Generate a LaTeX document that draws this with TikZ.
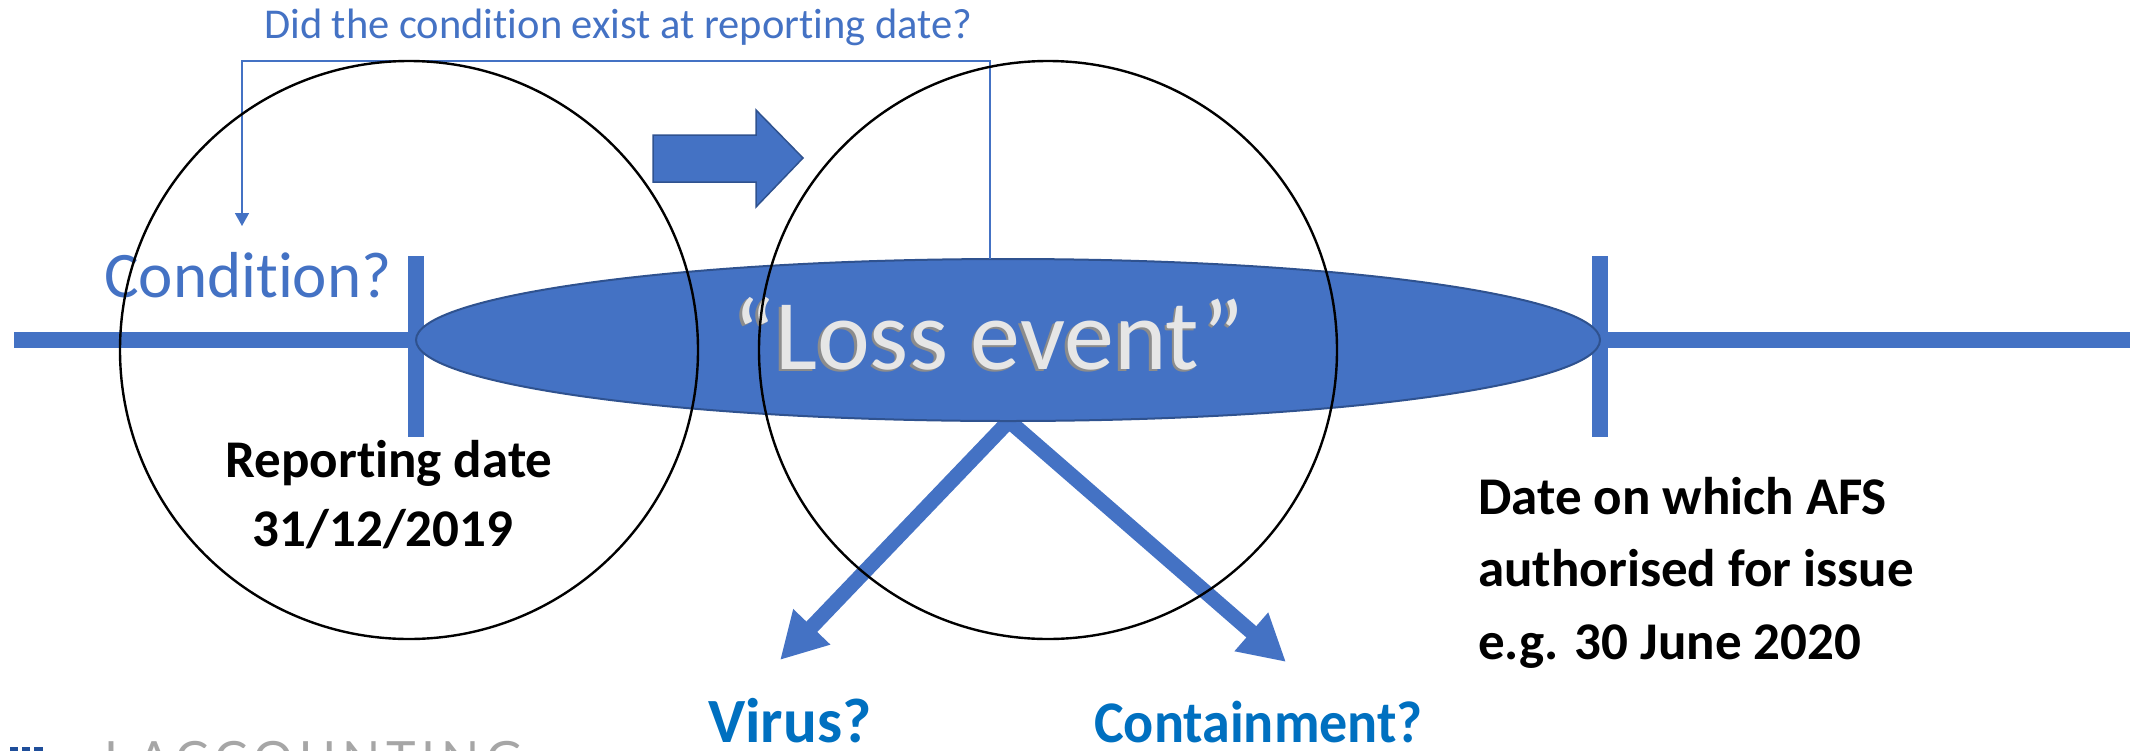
\documentclass[tikz,border=0pt]{standalone}
\usepackage{fontspec}
\setmainfont{Carlito}[Ligatures=CommonOff]
\newfontfamily\logofont{Lato}
\usetikzlibrary{shapes.geometric,arrows.meta}
\definecolor{obl}{HTML}{4472C4}
\definecolor{obd}{HTML}{2F528F}
\definecolor{qbl}{HTML}{0070C0}
\definecolor{lgray}{HTML}{E6E6E6}
\definecolor{sgray}{HTML}{8C8C8C}
\definecolor{logoblue}{HTML}{1F4E9A}
\begin{document}
\begin{tikzpicture}[x=1pt,y=-1pt,
  bar/.style={draw=obl, line width=16pt},
  circ/.style={draw=black, line width=2.4pt},
  blk/.style={font=\fontsize{53}{60}\selectfont\bfseries, text=black, inner sep=0pt},
  qtxt/.style={font=\fontsize{63}{70}\selectfont\bfseries, text=qbl, inner sep=0pt},
  thin/.style={draw=obl, line width=1.5pt},
  downarrow/.style={draw=obl, line width=15pt, line join=miter,
     {Triangle[length=46pt,width=48pt]}-{Triangle[length=46pt,width=48pt]}}
]
\useasboundingbox (0,0) rectangle (2138,750);
\clip (0,0) rectangle (2138,750);
% timeline
\coordinate (tlL) at (14,340);
\coordinate (tlR) at (2130,340);
\draw[bar] (tlL) -- (tlR);
\coordinate (t1a) at (416,256); \coordinate (t1b) at (416,437);
\coordinate (t2a) at (1600,256); \coordinate (t2b) at (1600,437);
\draw[bar] (t1a) -- (t1b);
\draw[bar] (t2a) -- (t2b);
% lower arrows (behind ellipse)
\coordinate (apex) at (1009,421);
\coordinate (tipV) at (780,660);
\coordinate (tipC) at (1286,662);
\draw[downarrow] (tipV) -- (apex) -- (tipC);
% loss event ellipse
\node[ellipse, fill=obl, draw=obd, line width=2pt, minimum width=1184pt, minimum height=162pt, inner sep=0pt] (loss) at (1008,340) {};
\node[anchor=base, inner sep=0pt, text=sgray, font=\fontsize{100}{110}\selectfont] (lossS) at (986.5,371.5) {“Loss event”};
\node[anchor=base, inner sep=0pt, text=lgray, font=\fontsize{100}{110}\selectfont] (lossT) at (989,369) {“Loss event”};
% block arrow
\draw[fill=obl, draw=obd, line width=1.5pt] (653,135) -- (756,135) -- (756,110) -- (803,158) -- (756,207) -- (756,182) -- (653,182) -- cycle;
% texts
\node[anchor=base west, inner sep=0pt, text=obl, font=\fontsize{42.5}{48}\selectfont] (q) at (264,38) {Did the condition exist at reporting date?};
\node[anchor=base west, inner sep=0pt, text=obl, font=\fontsize{65}{72}\selectfont] (cond) at (104,297) {Condition?};
\coordinate (brR) at (990,259);
\coordinate (brL) at (242,226);
\draw[thin, -{Triangle[length=13pt,width=14pt]}] (brR) -- (990,61) -- (242,61) -- (brL);
\node[blk, anchor=base] (rd1) at (389,477) {Reporting date};
\node[blk, anchor=base] (rd2) at (383,546) {31/12/2019};
\node[blk, anchor=base west] (af1) at (1478,514) {Date on which AFS};
\node[blk, anchor=base west] (af2) at (1478,586) {authorised for issue};
\node[blk, anchor=base west] (af3) at (1478,659) {e.g. 30 June 2020};
\node[qtxt, anchor=base west] (virus) at (708,742) {Virus?};
\node[qtxt, anchor=base west, xscale=0.95, font=\fontsize{59}{66}\selectfont\bfseries] (cont) at (1094,742) {Containment?};
% circles
\draw[circ] (409,350) circle[radius=289];
\draw[circ] (1048,350) circle[radius=289];
% logo (cut off at bottom)
\fill[logoblue] (10,747) rectangle (18,770);
\fill[logoblue] (22,747) rectangle (30,770);
\fill[logoblue] (34,747) rectangle (43,770);
\node[anchor=north west, inner sep=0pt, text=black!35, font=\logofont\fontsize{50}{56}\selectfont] (logo) at (104,741) {\addfontfeatures{LetterSpace=12}I ACCOUNTING};
\end{tikzpicture}
\end{document}
